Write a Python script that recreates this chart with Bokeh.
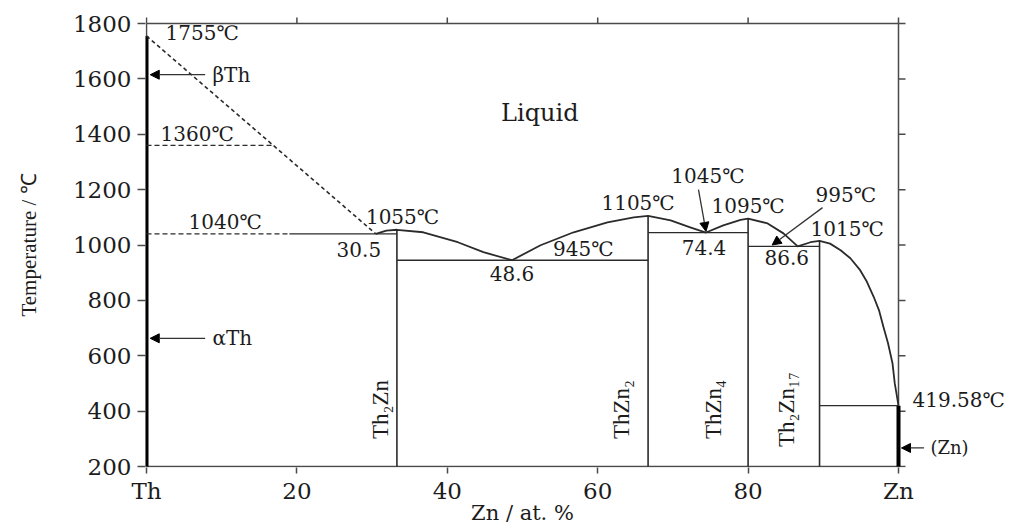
import math

from bokeh.embed import file_html
from bokeh.models import Arrow, FixedTicker, Label, LinearAxis, NormalHead, Range1d
from bokeh.plotting import figure
from bokeh.resources import INLINE

# ---------------- Th–Zn phase diagram data (at.% Zn, °C) ----------------
th_melt = 1755                 # melting point of Th
th_transition = 1360           # beta Th -> alpha Th
zn_melt = 419.58               # melting point of Zn

# eutectic points
eutectic_x = [30.5, 48.6, 74.4, 86.6]
eutectic_t = [1040, 945, 1045, 995]

# congruently melting compounds
compound_labels = ["Th₂Zn", "ThZn₂", "ThZn₄", "Th₂Zn₁₇"]
compound_x = [33.3, 66.7, 80.0, 89.5]
compound_t = [1055, 1105, 1095, 1015]

# liquidus from the first eutectic to pure Zn
liquidus_x = [30.5, 31.9, 33.3, 36.8, 41.4, 44.8, 48.6, 52.4, 56.8, 61.3, 64.8,
              66.7, 69.7, 72.3, 74.4, 76.7, 79.0, 80.0, 82.6, 84.7, 86.6, 88.3,
              89.5, 90.9, 92.3, 93.6, 94.9, 95.8, 96.7, 97.4, 98.0, 98.6, 99.2,
              99.5, 100.0]
liquidus_t = [1040, 1052, 1055, 1046, 1010, 974, 945, 999, 1046, 1082, 1100,
              1105, 1089, 1064, 1045, 1071, 1091, 1095, 1078, 1042, 995, 1010,
              1015, 1005, 981, 952, 909, 867, 813, 765, 704, 646, 573,
              501, 419.58]

# uncertain (dashed) part of the 1040 °C line on the Th side
dashed_eutectic_x = [0, 19]

# solid-phase markers
phase_marks = ["βTh", "αTh"]
phase_marks_t = [1615, 663]
zn_mark = "(Zn)"
zn_mark_t = 267

x_ticks = [0, 20, 40, 60, 80, 100]
x_tick_labels = {0: "Th", 100: "Zn"}
y_ticks = [200, 400, 600, 800, 1000, 1200, 1400, 1600, 1800]
x_min, x_max = 0, 100
t_min, t_max = 200, 1800
x_title = "Zn / at. %"
y_title = "Temperature / ℃"

# ---------------- styling ----------------
INK = "#1c1c1c"
LINE = "#2b2b2b"
AXIS = "#4a4a4a"
WIDE = "DejaVu Serif"
NARROW = "Liberation Serif"

LEFT, RIGHT, TOP, BOTTOM = 146, 898, 23, 466    # box edges on the canvas
W, H = 1020, 527
PX_X = (RIGHT - LEFT) / (x_max - x_min)         # pixels per at.%
PX_T = (BOTTOM - TOP) / (t_max - t_min)         # pixels per °C

# The frame runs on past the box to the right and above it, so that the
# labels beyond Zn and the outward ticks on top stay visible; the box itself
# is drawn as lines.
p = figure(width=W, height=H,
           x_range=Range1d(x_min - 1 / PX_X, x_min + (W - LEFT) / PX_X),
           y_range=Range1d(t_min - 1 / PX_T, t_max + TOP / PX_T),
           output_backend="svg", toolbar_location=None,
           min_border_left=LEFT - 1, min_border_right=0,
           min_border_top=0, min_border_bottom=H - BOTTOM - 1)
p.grid.visible = False
p.outline_line_color = None
p.background_fill_color = "white"
p.border_fill_color = "white"

xa = p.xaxis[0]
xa.ticker = FixedTicker(ticks=x_ticks)
xa.major_label_overrides = x_tick_labels
ya = p.yaxis[0]
ya.ticker = FixedTicker(ticks=y_ticks)

for ax, tick in ((xa, 6), (ya, 8)):
    ax.axis_line_color = None
    ax.major_tick_line_color = AXIS
    ax.major_tick_line_width = 1.5
    ax.major_tick_out = tick
    ax.major_tick_in = 0
    ax.minor_tick_line_color = None
    ax.major_label_text_font = WIDE
    ax.major_label_text_font_size = "23px"
    ax.major_label_text_color = INK
    ax.major_label_standoff = 4 if ax is xa else 6

# axis titles, centred on the box (not on the whole frame)
x_mid = (x_min + x_max) / 2
t_mid = (t_min + t_max) / 2
title_x = LinearAxis(ticker=FixedTicker(ticks=[x_mid]),
                     major_label_overrides={x_mid: x_title},
                     axis_line_color=None, major_tick_line_color=None,
                     minor_tick_line_color=None, major_tick_out=0, major_tick_in=0,
                     major_label_standoff=-6, major_label_text_font=WIDE,
                     major_label_text_font_size="21px", major_label_text_color=INK)
p.add_layout(title_x, "below")
title_y = LinearAxis(ticker=FixedTicker(ticks=[t_mid]),
                     major_label_overrides={t_mid: y_title},
                     major_label_orientation="parallel",
                     axis_line_color=None, major_tick_line_color=None,
                     minor_tick_line_color=None, major_tick_out=0, major_tick_in=0,
                     major_label_standoff=29, major_label_text_font=NARROW,
                     major_label_text_font_size="21px", major_label_text_color=INK)
p.add_layout(title_y, "left")

# box around the diagram, with outward ticks on the top and right edges
for xs, ys in (([x_min, x_max], [t_min, t_min]), ([x_min, x_max], [t_max, t_max]),
               ([x_min, x_min], [t_min, t_max]), ([x_max, x_max], [t_min, t_max])):
    p.line(xs, ys, line_color=AXIS, line_width=1.5)
p.segment(x0=x_ticks, y0=[t_max] * len(x_ticks),
          x1=x_ticks, y1=[t_max + 6 / PX_T] * len(x_ticks),
          line_color=AXIS, line_width=1.5)
p.segment(x0=[x_max] * len(y_ticks), y0=y_ticks,
          x1=[x_max + 7 / PX_X] * len(y_ticks), y1=y_ticks,
          line_color=AXIS, line_width=1.5)

# ---------------- phase boundaries ----------------
# pure Th and pure Zn solid ranges
p.line([x_min, x_min], [t_min, th_melt], line_color="black", line_width=4)
p.line([x_max, x_max], [t_min, zn_melt], line_color="black", line_width=4)

# metastable liquidus from the Th melting point down to the first eutectic
p.line([x_min, eutectic_x[0]], [th_melt, eutectic_t[0]],
       line_color=LINE, line_width=1.6, line_dash="4 3")
# beta/alpha Th transition, dashed up to the liquidus
x_cross = eutectic_x[0] * (th_melt - th_transition) / (th_melt - eutectic_t[0])
p.line([x_min, x_cross], [th_transition, th_transition],
       line_color=LINE, line_width=1.2, line_dash="5 3")

# eutectic horizontals
p.line(dashed_eutectic_x, [eutectic_t[0]] * 2, line_color=LINE, line_width=1.2, line_dash="5 3")
p.line([dashed_eutectic_x[1], compound_x[0]], [eutectic_t[0]] * 2, line_color=LINE, line_width=1.2)
p.line([compound_x[0], compound_x[1]], [eutectic_t[1]] * 2, line_color=LINE, line_width=1.3)
p.line([compound_x[1], compound_x[2]], [eutectic_t[2]] * 2, line_color=LINE, line_width=1.3)
p.line([compound_x[2], compound_x[3]], [eutectic_t[3]] * 2, line_color=LINE, line_width=1.3)
p.line([compound_x[3], x_max], [zn_melt] * 2, line_color=LINE, line_width=1.3)

# compound lines
for cx, ct in zip(compound_x, compound_t):
    p.line([cx, cx], [t_min, ct], line_color=LINE, line_width=1.6)

# liquidus
p.line(liquidus_x, liquidus_t, line_color=LINE, line_width=1.8, line_join="round")


# ---------------- annotations ----------------
def note(x, y, text, dx=0, dy=0, size=20, align="left", font=WIDE, angle=0.0):
    p.add_layout(Label(x=x, y=y, text=text, x_offset=dx, y_offset=dy,
                       text_font=font, text_font_size=f"{size}px",
                       text_align=align, text_baseline="middle",
                       text_color=INK, angle=angle))


def arrow(xs, ys, xe, ye):
    p.add_layout(Arrow(x_start=xs, y_start=ys, x_end=xe, y_end=ye,
                       line_color="#333333", line_width=1.3,
                       end=NormalHead(size=9, fill_color="black",
                                      line_color="black", line_width=1)))


def deg(t):
    return f"{t:g}℃"


note(x_min, th_melt, deg(th_melt), dx=19, dy=3)
note(x_min, th_transition, deg(th_transition), dx=14, dy=11)
note(x_min, eutectic_t[0], deg(eutectic_t[0]), dx=42, dy=12)
note(eutectic_x[0], eutectic_t[0], f"{eutectic_x[0]:g}", dx=-17, dy=-16, align="center")
note(eutectic_x[1], eutectic_t[1], f"{eutectic_x[1]:g}", dx=0, dy=-13, align="center")
note(eutectic_x[1], eutectic_t[1], deg(eutectic_t[1]), dx=41, dy=11)
note(eutectic_x[2], eutectic_t[2], f"{eutectic_x[2]:g}", dx=-2, dy=-15, align="center")
note(eutectic_x[2], eutectic_t[2], deg(eutectic_t[2]), dx=2, dy=57, align="center")
note(eutectic_x[3], eutectic_t[3], f"{eutectic_x[3]:g}", dx=-11, dy=-11, align="center")
note(eutectic_x[3], eutectic_t[3], deg(eutectic_t[3]), dx=48, dy=51, align="center")

note(compound_x[0], compound_t[0], deg(compound_t[0]), dx=-31, dy=13)
note(compound_x[1], compound_t[1], deg(compound_t[1]), dx=-10, dy=13, align="center")
note(compound_x[2], compound_t[2], deg(compound_t[2]), dx=0, dy=13, align="center")
note(compound_x[3], compound_t[3], deg(compound_t[3]), dx=-9, dy=12)
note(x_max, zn_melt, deg(zn_melt), dx=14, dy=6)

# arrows pointing at the 1045 °C and 995 °C eutectics
arrow(eutectic_x[2] - 1.0, eutectic_t[2] + 155, eutectic_x[2], eutectic_t[2] + 4)
arrow(eutectic_x[3] + 3.3, eutectic_t[3] + 140, eutectic_x[3] - 3.4, eutectic_t[3] + 5)

# compound names, vertical
for name, cx, dx in zip(compound_labels, compound_x, [-16, -27, -35, -33]):
    note(cx, t_min, name, dx=dx, dy=57, size=23, align="center", font=NARROW,
         angle=math.pi / 2)

# solid phase markers
for name, t in zip(phase_marks, phase_marks_t):
    arrow(x_min + 7.8, t, x_min + 0.5, t)
    note(x_min, t, name, dx=66, dy=0)
arrow(x_max + 3.4, zn_mark_t, x_max + 0.4, zn_mark_t)
note(x_max, zn_mark_t, zn_mark, dx=32, dy=0, size=18)

note(52.3, 1475, "Liquid", size=24, align="center")

open("out.html", "w").write(file_html(p, INLINE))
